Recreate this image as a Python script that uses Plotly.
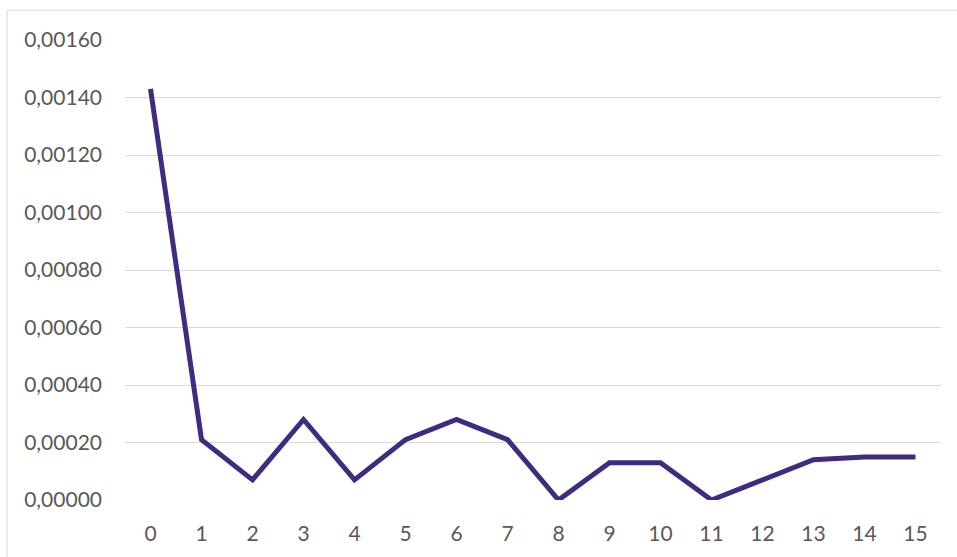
import plotly.graph_objects as go

# Series values by step
steps = [str(i) for i in range(16)]
values = [0.00143, 0.00021, 0.00007, 0.00028, 0.00007, 0.00021, 0.00028, 0.00021,
          0.00000, 0.00013, 0.00013, 0.00000, 0.00007, 0.00014, 0.00015, 0.00015]
y_ticks = [0.0, 0.0002, 0.0004, 0.0006, 0.0008, 0.0010, 0.0012, 0.0014, 0.0016]
y_tick_text = [f"{v:.5f}".replace(".", ",") for v in y_ticks]

W, H = 957, 557
ML, MR, MT, MB = 125, 16, 40, 55
pw, ph = W - ML - MR, H - MT - MB

font = dict(family="Lato, Open Sans, sans-serif", size=21, color="#595959")

fig = go.Figure(go.Scatter(
    x=steps, y=values, mode="lines",
    line=dict(color="#3F2B7F", width=5),
    hoverinfo="x+y",
))

# chart frame (left and top edges)
bx = (7 - ML) / pw
by = 1 + (MT - 10) / ph
fig.add_shape(type="line", xref="paper", yref="paper", x0=bx, x1=bx, y0=-1, y1=by,
              line=dict(color="#D9D9D9", width=1))
fig.add_shape(type="line", xref="paper", yref="paper", x0=bx, x1=2, y0=by, y1=by,
              line=dict(color="#D9D9D9", width=1))

fig.update_layout(
    width=W, height=H,
    margin=dict(l=ML, r=MR, t=MT, b=MB),
    paper_bgcolor="white", plot_bgcolor="white",
    showlegend=False, font=font,
    xaxis=dict(type="category", range=[-0.5, len(steps) - 0.5],
               showgrid=False, zeroline=False, showline=False,
               ticks="", ticklabelstandoff=19, tickfont=font),
    yaxis=dict(range=[0, 0.0016], tickvals=y_ticks, ticktext=y_tick_text,
               showgrid=True, gridcolor="#D9D9D9", gridwidth=1,
               zeroline=False, showline=False, ticks="",
               ticklabelstandoff=22, tickfont=font),
)

fig.write_html("out.html")
